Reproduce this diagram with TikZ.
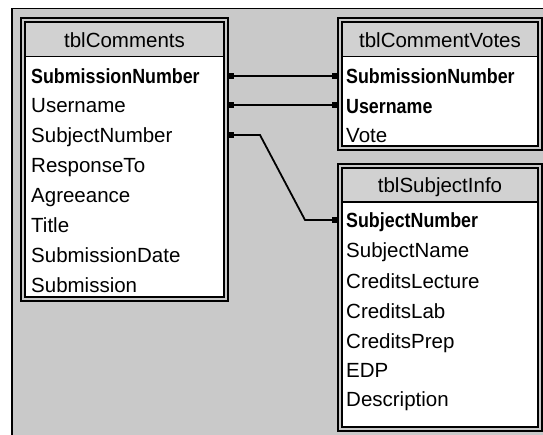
\documentclass[tikz,border=0pt]{standalone}
\usepackage{fontspec}
\setmainfont{Liberation Sans}
\newfontfamily\keyfont{Liberation Sans}[FakeStretch=0.87]
\usetikzlibrary{positioning,arrows.meta,calc}
\definecolor{panelgray}{gray}{0.79}
\definecolor{bargray}{gray}{0.82}
\newcommand\rowsize{\fontsize{20.5pt}{24pt}\selectfont}

\begin{document}
\begin{tikzpicture}[x=1pt,y=-1pt,
    tbl/.style={draw=black,line width=1.6pt,double=panelgray,
      double distance=2.4pt,fill=white,inner sep=0pt,outer sep=2.8pt,
      anchor=north west},
    tbltitle/.style={fill=bargray,inner sep=0pt,anchor=north,yshift=-5.6pt,
      minimum height=33pt,font=\rowsize,text height=14.5pt,text depth=0pt},
    field/.style={anchor=west,inner sep=0pt,font=\rowsize,
      text height=14.5pt,text depth=0pt},
    keyfield/.style={field,font=\rowsize\keyfont\bfseries},
    sepline/.style={draw=black,line width=1.2pt},
    link/.style={draw=black,line width=1.8pt,
      {Square[length=5pt,width=6pt]}-{Square[length=5pt,width=6pt]}}
  ]
  \useasboundingbox (0,0) rectangle (543,435);
  % window background
  \fill[white] (0,0) rectangle (543,435);
  \fill[panelgray] (12,8.5) rectangle (543,435);
  \draw[line width=1.5pt] (12,435) -- (12,8.5) -- (543,8.5);

  % tables
  \node[tbl,minimum width=203.4pt,minimum height=278.9pt] (comments) at (20,17.5) {};
  \node[tbl,minimum width=200.4pt,minimum height=127.9pt] (votes) at (337,17.5) {};
  \node[tbl,minimum width=200.4pt,minimum height=263.4pt] (info) at (337,163) {};

  \node[tbltitle,minimum width=197.8pt] (cm-head) at (comments.north) {tblComments};
  \node[tbltitle,minimum width=194.8pt] (cv-head) at (votes.north) {tblCommentVotes};
  \node[tbltitle,minimum width=194.8pt] (si-head) at (info.north) {tblSubjectInfo};
  \draw[sepline] (cm-head.south west) -- (cm-head.south east);
  \draw[sepline] (cv-head.south west) -- (cv-head.south east);
  \draw[sepline] (si-head.south west) -- (si-head.south east);

  % tblComments fields
  \node[keyfield] (cm-sub) at (31,76) {SubmissionNumber};
  \node[field] (cm-user) at (31,105) {Username};
  \node[field] (cm-subj) at (31,135) {SubjectNumber};
  \node[field] (cm-resp) at (31,165) {ResponseTo};
  \node[field] (cm-agree) at (31,195) {Agreeance};
  \node[field] (cm-title) at (31,225) {Title};
  \node[field] (cm-date) at (31,255) {SubmissionDate};
  \node[field] (cm-text) at (31,285) {Submission};

  % tblCommentVotes fields
  \node[keyfield] (cv-sub) at (346,76) {SubmissionNumber};
  \node[keyfield] (cv-user) at (346,106) {Username};
  \node[field] (cv-vote) at (346,135) {Vote};

  % tblSubjectInfo fields
  \node[keyfield] (si-subj) at (346,220) {SubjectNumber};
  \node[field] (si-name) at (346,250) {SubjectName};
  \node[field] (si-lect) at (346,281) {CreditsLecture};
  \node[field] (si-lab) at (346,311) {CreditsLab};
  \node[field] (si-prep) at (346,341) {CreditsPrep};
  \node[field] (si-edp) at (346,370) {EDP};
  \node[field] (si-desc) at (346,399) {Description};

  % relationships
  \draw[link] (cm-sub -| comments.east) -- (cm-sub -| votes.west);
  \draw[link] (cm-user -| comments.east) -- (cm-user -| votes.west);
  \draw[link] (cm-subj -| comments.east) -- ++(31,0)
    -- ($(si-subj -| info.west)+(-32,0)$) -- (si-subj -| info.west);
\end{tikzpicture}
\end{document}
